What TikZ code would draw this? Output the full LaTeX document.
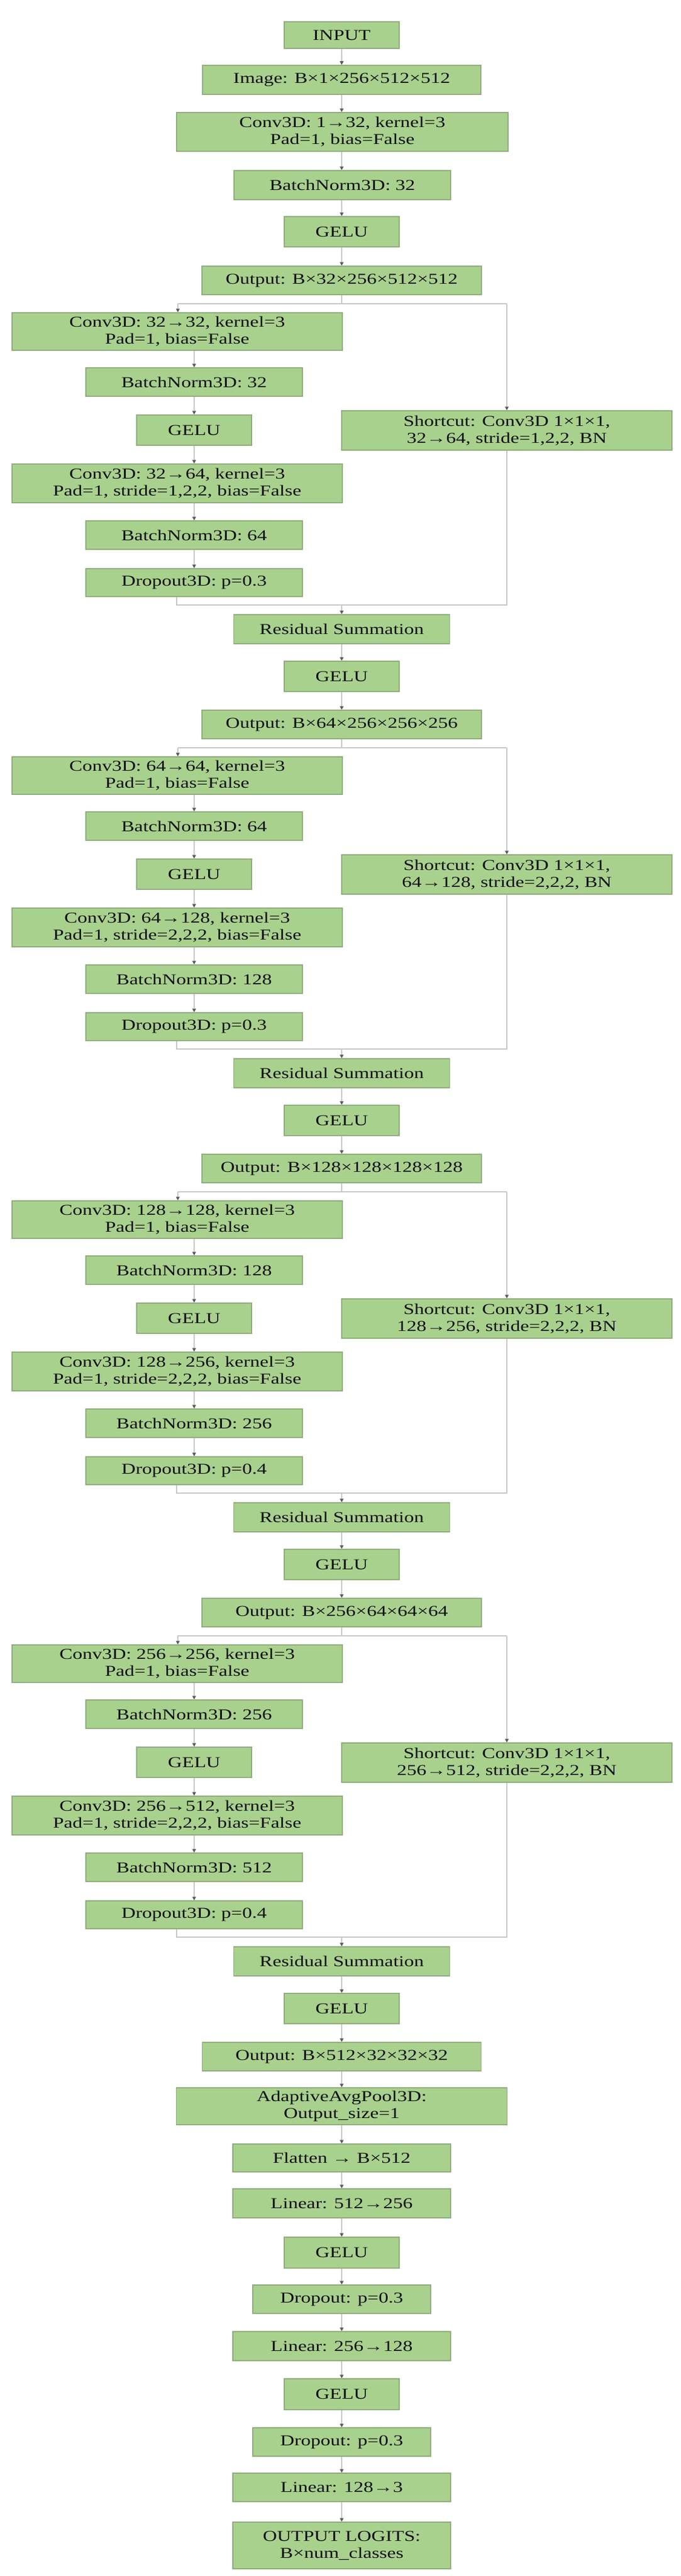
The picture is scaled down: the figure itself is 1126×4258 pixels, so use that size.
\documentclass[tikz,border=0pt]{standalone}
\usepackage{fontspec}
\setmainfont{Liberation Serif}[FakeStretch=1.3]
\usetikzlibrary{arrows.meta}
\definecolor{boxfill}{HTML}{A9D18E}
\definecolor{boxdraw}{HTML}{8FAE7C}
\definecolor{linec}{HTML}{C8C8C8}
\definecolor{tipc}{HTML}{5A5A5A}
\definecolor{txt}{HTML}{101010}

\newcommand\resblock[8]{%
 \coordinate (b#1) at (565,#2+62);
 \coordinate (bl#1) at (294,#2+62);
 \coordinate (br#1) at (838,#2+62);
 \node[box,minimum width=546pt,minimum height=62pt] (ca#1) at (293,#2+108) {#3};
 \node[box,minimum width=358pt,minimum height=47pt] (na#1) at (321,#2+191.5) {#4};
 \node[box,minimum width=190pt,minimum height=50pt] (ga#1) at (321,#2+271) {GELU};
 \node[box,minimum width=546pt,minimum height=65pt] (sc#1) at (838,#2+271.5) {#8};
 \node[box,minimum width=546pt,minimum height=64pt] (cb#1) at (293,#2+359) {#5};
 \node[box,minimum width=358pt,minimum height=47pt] (nb#1) at (321,#2+444.5) {#6};
 \node[box,minimum width=358pt,minimum height=46pt] (dr#1) at (321,#2+523) {#7};
 \coordinate (m#1) at (565,#2+560);
 \coordinate (ml#1) at (292,#2+560);
 \coordinate (mr#1) at (838,#2+560);
 \node[box,minimum width=357pt,minimum height=48pt] (rs#1) at (565,#2+600) {Residual Summation};
 \node[box,minimum width=190pt,minimum height=50pt] (gr#1) at (565,#2+678) {GELU};
 \draw[conn] (bl#1) -- (br#1);
 \draw[arr] (bl#1) -- (bl#1 |- ca#1.north);
 \draw[arr] (br#1) -- (br#1 |- sc#1.north);
 \draw[arr] (ca#1.south -| na#1) -- (na#1.north);
 \draw[arr] (na#1.south) -- (ga#1.north);
 \draw[arr] (ga#1.south) -- (cb#1.north -| ga#1);
 \draw[arr] (cb#1.south -| nb#1) -- (nb#1.north);
 \draw[arr] (nb#1.south) -- (dr#1.north);
 \draw[conn] (ml#1 |- dr#1.south) -- (ml#1) -- (mr#1) -- (mr#1 |- sc#1.south);
 \draw[arr] (m#1) -- (rs#1.north);
 \draw[arr] (rs#1.south) -- (gr#1.north);
}

\begin{document}
\begin{tikzpicture}[x=1pt,y=-1pt,
 box/.style={draw=boxdraw, fill=boxfill, line width=1.5pt, inner sep=0pt, align=center, text=txt, font=\fontsize{25}{28}\selectfont},
 conn/.style={draw=linec, line width=2pt},
 arr/.style={conn, -{Triangle[length=6pt,width=6pt,color=tipc]}},
]
\fill[white] (0,0) rectangle (1126,4258);
\useasboundingbox (0,0) rectangle (1126,4258);

\node[box,minimum width=190pt,minimum height=44pt] (input) at (565,58) {INPUT};
\node[box,minimum width=460pt,minimum height=48pt] (image) at (565,132) {Image: B×1×256×512×512};
\node[box,minimum width=548pt,minimum height=64pt] (conv0) at (566,218) {Conv3D: 1→32, kernel=3\\Pad=1, bias=False};
\node[box,minimum width=358pt,minimum height=48pt] (bn0) at (566,306) {BatchNorm3D: 32};
\node[box,minimum width=190pt,minimum height=50pt] (gelu0) at (565,383) {GELU};
\node[box,minimum width=462pt,minimum height=47pt] (out0) at (565,463.5) {Output: B×32×256×512×512};
\draw[arr] (input.south) -- (image.north);
\draw[arr] (image.south) -- (image.south |- conv0.north);
\draw[arr] (image.south |- conv0.south) -- (image.south |- bn0.north);
\draw[arr] (image.south |- bn0.south) -- (gelu0.north);
\draw[arr] (gelu0.south) -- (out0.north);

\resblock{1}{440}{Conv3D: 32→32, kernel=3\\Pad=1, bias=False}{BatchNorm3D: 32}{Conv3D: 32→64, kernel=3\\Pad=1, stride=1,2,2, bias=False}{BatchNorm3D: 64}{Dropout3D: p=0.3}{Shortcut: Conv3D 1×1×1,\\32→64, stride=1,2,2, BN}
\draw[conn] (out0.south) -- (b1);
\node[box,minimum width=462pt,minimum height=47pt] (out1) at (565,1197.5) {Output: B×64×256×256×256};
\draw[arr] (gr1.south) -- (out1.north);

\resblock{2}{1174}{Conv3D: 64→64, kernel=3\\Pad=1, bias=False}{BatchNorm3D: 64}{Conv3D: 64→128, kernel=3\\Pad=1, stride=2,2,2, bias=False}{BatchNorm3D: 128}{Dropout3D: p=0.3}{Shortcut: Conv3D 1×1×1,\\64→128, stride=2,2,2, BN}
\draw[conn] (out1.south) -- (b2);
\node[box,minimum width=462pt,minimum height=47pt] (out2) at (565,1931.5) {Output: B×128×128×128×128};
\draw[arr] (gr2.south) -- (out2.north);

\resblock{3}{1908}{Conv3D: 128→128, kernel=3\\Pad=1, bias=False}{BatchNorm3D: 128}{Conv3D: 128→256, kernel=3\\Pad=1, stride=2,2,2, bias=False}{BatchNorm3D: 256}{Dropout3D: p=0.4}{Shortcut: Conv3D 1×1×1,\\128→256, stride=2,2,2, BN}
\draw[conn] (out2.south) -- (b3);
\node[box,minimum width=462pt,minimum height=47pt] (out3) at (565,2665.5) {Output: B×256×64×64×64};
\draw[arr] (gr3.south) -- (out3.north);

\resblock{4}{2642}{Conv3D: 256→256, kernel=3\\Pad=1, bias=False}{BatchNorm3D: 256}{Conv3D: 256→512, kernel=3\\Pad=1, stride=2,2,2, bias=False}{BatchNorm3D: 512}{Dropout3D: p=0.4}{Shortcut: Conv3D 1×1×1,\\256→512, stride=2,2,2, BN}
\draw[conn] (out3.south) -- (b4);
\node[box,minimum width=461pt,minimum height=47pt] (out4) at (565,3399.5) {Output: B×512×32×32×32};
\draw[arr] (gr4.south) -- (out4.north);

\node[box,minimum width=547pt,minimum height=61pt] (pool) at (565,3481.5) {AdaptiveAvgPool3D:\\Output\_size=1};
\node[box,minimum width=360pt,minimum height=46pt] (flat) at (565,3567) {Flatten → B×512};
\node[box,minimum width=360pt,minimum height=48pt] (lin1) at (565,3642) {Linear: 512→256};
\node[box,minimum width=190pt,minimum height=51pt] (g5) at (565,3723.5) {GELU};
\node[box,minimum width=294pt,minimum height=47pt] (d5) at (565,3800.5) {Dropout: p=0.3};
\node[box,minimum width=360pt,minimum height=48pt] (lin2) at (565,3878) {Linear: 256→128};
\node[box,minimum width=190pt,minimum height=51pt] (g6) at (565,3957.5) {GELU};
\node[box,minimum width=294pt,minimum height=47pt] (d6) at (565,4036.5) {Dropout: p=0.3};
\node[box,minimum width=360pt,minimum height=47pt] (lin3) at (565,4111.5) {Linear: 128→3};
\node[box,minimum width=360pt,minimum height=77pt] (logits) at (565,4207.5) {OUTPUT LOGITS:\\B×num\_classes};
\draw[arr] (out4.south) -- (pool.north);
\draw[arr] (pool.south) -- (flat.north);
\draw[arr] (flat.south) -- (lin1.north);
\draw[arr] (lin1.south) -- (g5.north);
\draw[arr] (g5.south) -- (d5.north);
\draw[arr] (d5.south) -- (lin2.north);
\draw[arr] (lin2.south) -- (g6.north);
\draw[arr] (g6.south) -- (d6.north);
\draw[arr] (d6.south) -- (lin3.north);
\draw[arr] (lin3.south) -- (logits.north);
\end{tikzpicture}
\end{document}
